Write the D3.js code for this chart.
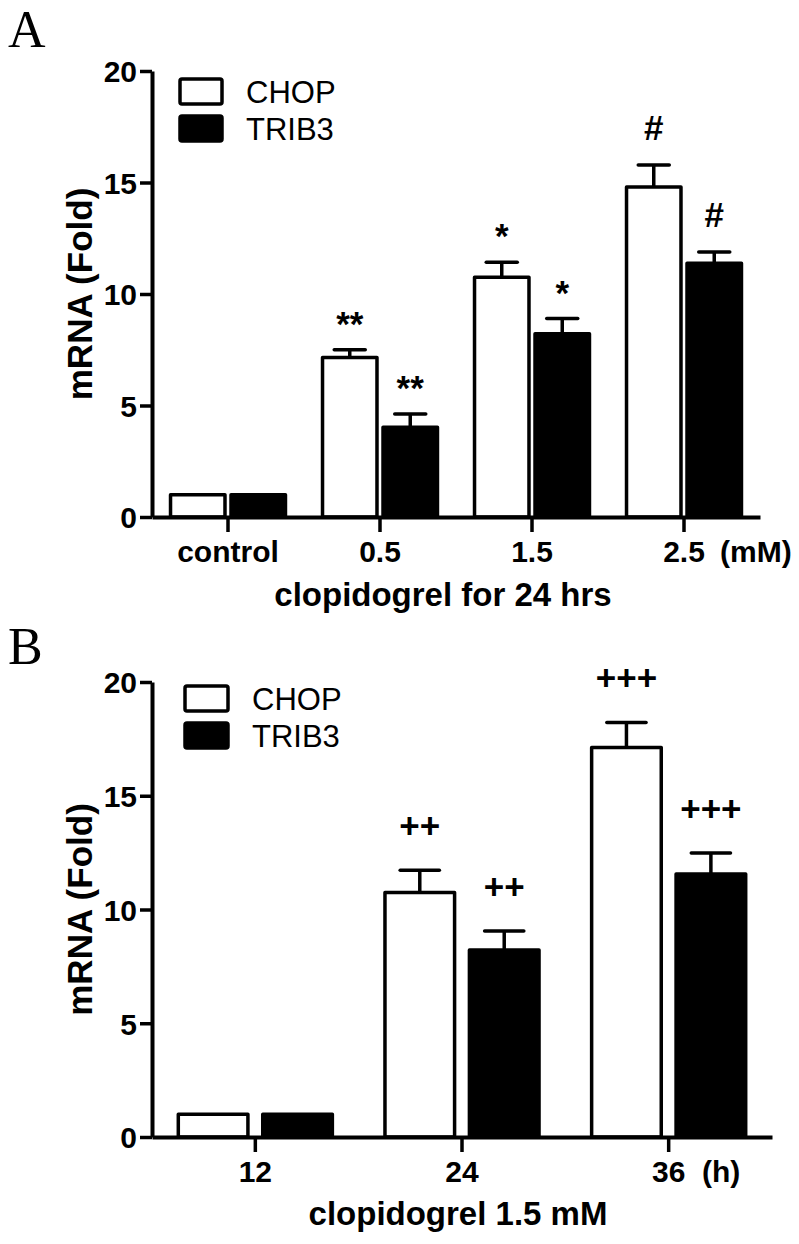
<!DOCTYPE html>
<html>
<head>
<meta charset="utf-8">
<script src="https://cdn.jsdelivr.net/npm/d3@7"></script>
<style>
  body { margin: 0; background: #fff; }
</style>
</head>
<body>
<div id="chart"></div>
<script>
// data
var series = ["CHOP", "TRIB3"]

var doseGroups = ["control", "0.5", "1.5", "2.5"]
var doseChop = [1.0, 7.15, 10.75, 14.8]
var doseChopErr = [0, 0.35, 0.67, 0.98]
var doseTrib = [1.0, 4.02, 8.22, 11.38]
var doseTribErr = [0, 0.6, 0.68, 0.5]
var doseChopMarks = ["", "**", "*", "#"]
var doseTribMarks = ["", "**", "*", "#"]

var timeGroups = ["12", "24", "36"]
var timeChop = [1.0, 10.75, 17.12]
var timeChopErr = [0, 0.97, 1.1]
var timeTrib = [1.0, 8.22, 11.56]
var timeTribErr = [0, 0.83, 0.92]
var timeChopMarks = ["", "++", "+++"]
var timeTribMarks = ["", "++", "+++"]

var yTicks = [0, 5, 10, 15, 20]

var font = "'Liberation Sans', Arial, sans-serif"

var svg = d3.select("#chart")
  .append("svg")
  .attr("width", 799)
  .attr("height", 1244)

// how far the glyph baseline sits above the error cap
var markOffset = { "*": 14, "#": 25, "+": 32 }

function drawPanel(opt) {
  var g = svg.append("g")

  var y = d3.scaleLinear()
            .domain([0, 20])
            .range([opt.bottom, opt.top])

  var x0 = d3.scaleBand()
             .domain(opt.groups)
             .range([opt.left, opt.right])
             .paddingInner(opt.pad)
             .paddingOuter(opt.pad / 2)

  var x1 = d3.scaleBand()
             .domain(series)
             .range([0, x0.bandwidth()])
             .paddingInner(opt.innerPad)

  var rows = opt.groups.map(function(grp, i) {
    return [
      { grp: grp, key: "CHOP", v: opt.chop[i], e: opt.chopErr[i], mark: opt.chopMarks[i] },
      { grp: grp, key: "TRIB3", v: opt.trib[i], e: opt.tribErr[i], mark: opt.tribMarks[i] }
    ]
  })
  var flat = d3.merge(rows)
  var bx = function(d) { return x0(d.grp) + x1(d.key) }
  var cx = function(d) { return bx(d) + x1.bandwidth() / 2 }
  var capW = x1.bandwidth() * 0.54

  // error bars (upper only)
  g.selectAll(".err")
   .data(flat.filter(function(d) { return d.e > 0 }))
   .enter()
   .append("line")
   .attr("x1", cx)
   .attr("x2", cx)
   .attr("y1", function(d) { return y(d.v) })
   .attr("y2", function(d) { return y(d.v + d.e) })
   .attr("stroke", "#000")
   .attr("stroke-width", 3.5)

  g.selectAll(".cap")
   .data(flat.filter(function(d) { return d.e > 0 }))
   .enter()
   .append("line")
   .attr("x1", function(d) { return cx(d) - capW / 2 })
   .attr("x2", function(d) { return cx(d) + capW / 2 })
   .attr("y1", function(d) { return y(d.v + d.e) })
   .attr("y2", function(d) { return y(d.v + d.e) })
   .attr("stroke", "#000")
   .attr("stroke-width", 3.5)
   .attr("stroke-linecap", "round")

  // bars
  g.selectAll(".bar")
   .data(flat)
   .enter()
   .append("rect")
   .attr("x", function(d) { return bx(d) + 1.5 })
   .attr("y", function(d) { return y(d.v) })
   .attr("width", x1.bandwidth() - 3)
   .attr("height", function(d) { return y(0) - y(d.v) })
   .attr("fill", function(d) { return d.key == "CHOP" ? "#fff" : "#000" })
   .attr("stroke", "#000")
   .attr("stroke-width", 3.5)
   .attr("stroke-linejoin", "round")

  // significance marks
  g.selectAll(".mark")
   .data(flat.filter(function(d) { return d.mark != "" }))
   .enter()
   .append("text")
   .attr("x", cx)
   .attr("y", function(d) { return y(d.v + d.e) - markOffset[d.mark[0]] })
   .attr("text-anchor", "middle")
   .style("font-family", font)
   .style("font-weight", "bold")
   .style("font-size", "35px")
   .text(function(d) { return d.mark })

  // axes
  var yAxis = g.append("g")
     .attr("transform", "translate(" + opt.left + ",0)")
     .call(d3.axisLeft(y).tickValues(yTicks).tickSize(12).tickSizeOuter(0).tickPadding(3))
  var xAxis = g.append("g")
     .attr("transform", "translate(0," + opt.bottom + ")")
     .call(d3.axisBottom(x0).tickSize(15).tickSizeOuter(0).tickPadding(9))

  ;[yAxis, xAxis].forEach(function(a) {
    a.select(".domain").attr("stroke-width", 4)
    a.selectAll(".tick line").attr("stroke-width", 3.5)
    a.selectAll("text")
     .style("font-family", font)
     .style("font-weight", "bold")
     .style("font-size", "30px")
     .attr("fill", "#000")
  })
  yAxis.selectAll("text").attr("dy", "0.36em")
  xAxis.selectAll("text").attr("dy", "0.71em")

  // unit after the last tick label
  g.append("text")
   .attr("x", opt.unitX)
   .attr("y", opt.bottom + 45)
   .style("font-family", font)
   .style("font-weight", "bold")
   .style("font-size", "30px")
   .text(opt.unit)

  // axis titles
  g.append("text")
   .attr("x", opt.titleX)
   .attr("y", opt.bottom + opt.titleDy)
   .attr("text-anchor", "middle")
   .style("font-family", font)
   .style("font-weight", "bold")
   .style("font-size", "33px")
   .text(opt.xTitle)

  g.append("text")
   .attr("transform", "translate(92," + (opt.top + opt.bottom) / 2 + ") rotate(-90)")
   .attr("text-anchor", "middle")
   .style("font-family", font)
   .style("font-weight", "bold")
   .style("font-size", "35px")
   .text("mRNA (Fold)")

  // panel letter
  g.append("text")
   .attr("x", 8)
   .attr("y", opt.letterY)
   .style("font-family", "'Liberation Serif', 'Times New Roman', serif")
   .style("font-size", "52px")
   .text(opt.letter)

  // legend
  var leg = g.selectAll(".leg")
    .data(series)
    .enter()
    .append("g")
    .attr("transform", function(d, i) {
      return "translate(" + opt.legX + "," + (opt.legY + i * opt.legStep) + ")"
    })
  leg.append("rect")
     .attr("x", 0)
     .attr("y", 0)
     .attr("width", opt.legW)
     .attr("height", opt.legH)
     .attr("rx", 2)
     .attr("fill", function(d) { return d == "CHOP" ? "#fff" : "#000" })
     .attr("stroke", "#000")
     .attr("stroke-width", 3.5)
  leg.append("text")
     .attr("x", opt.legW + 24)
     .attr("y", opt.legH - 1)
     .style("font-family", font)
     .style("font-size", "31px")
     .text(function(d) { return d })
}

drawPanel({
  letter: "A", letterY: 47,
  groups: doseGroups,
  chop: doseChop, chopErr: doseChopErr, chopMarks: doseChopMarks,
  trib: doseTrib, tribErr: doseTribErr, tribMarks: doseTribMarks,
  top: 71, bottom: 517, left: 152, right: 760,
  pad: 0.224, innerPad: 0.05,
  unit: "(mM)", unitX: 720,
  xTitle: "clopidogrel for 24 hrs", titleX: 443, titleDy: 89,
  legX: 180, legY: 79, legStep: 37, legW: 42, legH: 25
})

drawPanel({
  letter: "B", letterY: 664,
  groups: timeGroups,
  chop: timeChop, chopErr: timeChopErr, chopMarks: timeChopMarks,
  trib: timeTrib, tribErr: timeTribErr, tribMarks: timeTribMarks,
  top: 682, bottom: 1137, left: 152, right: 772,
  pad: 0.24, innerPad: 0.14,
  unit: "(h)", unitX: 702,
  xTitle: "clopidogrel 1.5 mM", titleX: 458, titleDy: 88,
  legX: 185, legY: 686, legStep: 37, legW: 43, legH: 25
})
</script>
</body>
</html>
